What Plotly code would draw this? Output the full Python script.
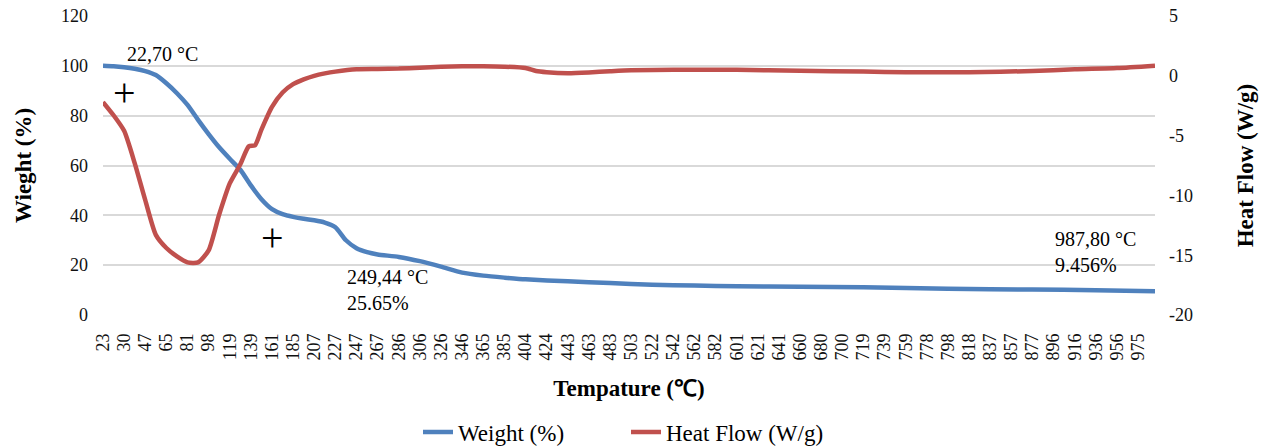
import plotly.graph_objects as go

# ---------------- data ----------------
tick_labels = [23, 30, 47, 65, 81, 98, 119, 139, 161, 185, 207, 227, 247, 267, 286,
               306, 326, 346, 365, 385, 404, 424, 443, 463, 483, 503, 522, 542, 562,
               582, 601, 621, 641, 660, 680, 700, 719, 739, 759, 778, 798, 818, 837,
               857, 877, 896, 916, 936, 956, 975]

heat_ticks = [-20, -15, -10, -5, 0, 5]

# category position (in units of tick-label steps) and weight %
weight_pos = [0, 0.5, 1, 1.5, 2, 2.5, 3, 3.5, 4, 4.5, 5, 5.5, 6, 6.5, 7, 7.5, 8, 8.5,
              9, 9.5, 10, 10.5, 11, 11.5, 12, 12.5, 13, 14, 15, 16, 17, 18, 19, 20,
              22, 24, 26, 28, 30, 33, 36, 40, 44, 47, 49.8]
weight = [100.0, 99.8, 99.4, 98.8, 97.9, 96.3, 93.0, 89.0, 84.3, 78.3, 72.6, 67.3,
          62.7, 58.3, 52.0, 46.5, 42.5, 40.5, 39.4, 38.6, 38.0, 37.1, 35.2, 30.0,
          26.8, 25.2, 24.3, 23.3, 21.6, 19.4, 17.0, 15.8, 15.0, 14.3, 13.5, 12.8,
          12.1, 11.8, 11.5, 11.3, 11.1, 10.5, 10.2, 9.95, 9.5]

heat_pos = [0, 0.5, 1, 1.5, 2, 2.5, 3, 3.5, 4, 4.5, 5, 5.5, 6, 6.5, 6.9, 7.2, 7.5, 8,
            8.5, 9, 9.5, 10, 10.5, 11, 12, 13, 14, 15, 16, 17, 18, 19, 20, 20.5, 21,
            22, 23, 24, 25, 27, 30, 33, 36, 38, 41, 44, 46, 48, 49.8]
heat_flow = [-2.2, -3.3, -4.6, -7.3, -10.4, -13.3, -14.4, -15.1, -15.6, -15.6, -14.6,
             -11.6, -9.0, -7.4, -5.9, -5.8, -4.5, -2.6, -1.4, -0.7, -0.3, 0.0, 0.2,
             0.35, 0.55, 0.57, 0.6, 0.68, 0.75, 0.8, 0.8, 0.76, 0.65, 0.4, 0.3, 0.22,
             0.28, 0.38, 0.46, 0.5, 0.5, 0.42, 0.35, 0.3, 0.3, 0.4, 0.55, 0.65, 0.85]

# ---------------- layout helpers ----------------
W, H = 1274, 447
L, R, T, B = 103, 119, 16, 132
PW, PH = W - L - R, H - T - B


def px(x):
    return (x - L) / PW


def py(y):
    return (H - B - y) / PH


FONT = "Liberation Serif, Times New Roman, serif"
BLUE = "#4F81BD"
RED = "#C0504D"
TICK = "#111111"

fig = go.Figure()
fig.add_trace(go.Scatter(x=weight_pos, y=weight, name="Weight (%)", mode="lines",
                         line=dict(color=BLUE, width=4.5, shape="spline", smoothing=0.6),
                         yaxis="y"))
fig.add_trace(go.Scatter(x=heat_pos, y=heat_flow, name="Heat Flow (W/g)", mode="lines",
                         line=dict(color=RED, width=4.5, shape="spline", smoothing=0.6),
                         yaxis="y2"))

annotations = []


def txt(x, y, text, size=20, xanchor="left"):
    annotations.append(dict(xref="paper", yref="paper", x=px(x), y=py(y), text=text,
                            showarrow=False, xanchor=xanchor, yanchor="middle",
                            align="left", font=dict(family=FONT, size=size, color="black")))


txt(125, 54, "22,70 °C")
txt(345, 290, "249,44 °C<br>25.65%")
txt(1053, 252, "987,80 °C<br>9.456%")
txt(124, 92, "+", size=40, xanchor="center")
txt(272, 238, "+", size=40, xanchor="center")

fig.update_layout(
    width=W, height=H,
    margin=dict(l=L, r=R, t=T, b=B, pad=0, autoexpand=False),
    paper_bgcolor="white", plot_bgcolor="white",
    font=dict(family=FONT, size=18, color=TICK),
    showlegend=True,
    legend=dict(orientation="h", xref="container", yref="container",
                x=418 / W, y=(H - 432) / H, xanchor="left", yanchor="middle",
                entrywidth=163, entrywidthmode="pixels",
                font=dict(family=FONT, size=23, color="black"),
                bgcolor="rgba(0,0,0,0)"),
    xaxis=dict(range=[0, 49.8], tickmode="array", tickvals=list(range(len(tick_labels))),
               ticktext=[str(t) for t in tick_labels], tickangle=-90, automargin=False,
               showgrid=False, zeroline=False, showline=False, ticks="",
               ticklabelstandoff=14,
               tickfont=dict(family=FONT, size=18, color=TICK),
               title=dict(text="<b>Tempature (℃)</b>", standoff=20,
                          font=dict(family=FONT, size=23, color="black"))),
    yaxis=dict(range=[0, 120], dtick=20, showgrid=True, gridcolor="#D9D9D9", gridwidth=2,
               zeroline=False, showline=False, ticks="", ticklabelstandoff=14,
               automargin=False,
               tickfont=dict(family=FONT, size=18, color=TICK),
               title=dict(text="<b>Wieght (%)</b>", standoff=22,
                          font=dict(family=FONT, size=23, color="black"))),
    yaxis2=dict(range=[-20, 5], tickmode="array", tickvals=heat_ticks,
                ticktext=[str(v) for v in heat_ticks],
                overlaying="y", side="right", showgrid=False,
                zeroline=False, showline=False, ticks="", ticklabelstandoff=13,
                automargin=False,
                tickfont=dict(family=FONT, size=18, color=TICK),
                title=dict(text="<b>Heat Flow (W/g)</b>", standoff=44,
                           font=dict(family=FONT, size=23, color="black"))),
    annotations=annotations,
)

fig.write_html("out.html")
